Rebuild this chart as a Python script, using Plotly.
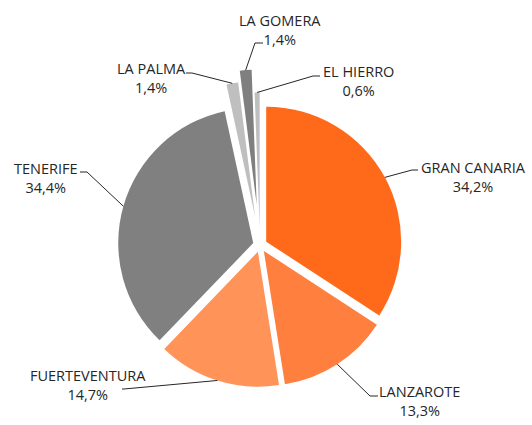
import math
import plotly.graph_objects as go

# ---- data ----
labels = ["GRAN CANARIA", "LANZAROTE", "FUERTEVENTURA", "TENERIFE",
          "LA PALMA", "LA GOMERA", "EL HIERRO"]
values = [34.2, 13.3, 14.7, 34.4, 1.4, 1.4, 0.6]

# ---- styles ----
colors = ["#FF6A1A", "#FF7F3F", "#FF9358", "#808080", "#BFBFBF", "#7F7F7F", "#BFBFBF"]
pulls = [0.052, 0.052, 0.052, 0.052, 0.215, 0.30, 0.13]

W, H = 532, 425
CX, CY = 260, 245          # pie centre in pixels
R = 135                    # pie radius in pixels
box = 2 * R * (1 + max(pulls))

dom_x = [(CX - box / 2) / W, (CX + box / 2) / W]
dom_y = [(H - CY - box / 2) / H, (H - CY + box / 2) / H]

# label layout (pixels): text centre, leader start, leader elbow
label_layout = {
    "GRAN CANARIA": ((473, 177), (418, 170), (412, 170)),
    "LANZAROTE": ((419, 401), (378, 396), (370, 396)),
    "FUERTEVENTURA": ((88, 385), (122, 389), (124, 389)),
    "TENERIFE": ((46, 178), (80, 172), (87, 172)),
    "LA PALMA": ((151, 78), (186, 73), (192, 73)),
    "LA GOMERA": ((280, 30), (263, 43), (255, 43)),
    "EL HIERRO": ((358, 81), (320, 76), (313, 76)),
}


def px(x):
    return x / W


def py(y):
    return 1 - y / H


total = sum(values)
annotations = []
shapes = []
cum = 0.0
for lab, v, p in zip(labels, values, pulls):
    mid = (cum + v / 2) / total * 2 * math.pi
    cum += v
    ux, uy = math.sin(mid), -math.cos(mid)
    d = R * (1 + p)
    ex, ey = CX + d * ux, CY + d * uy
    (tx, ty), (sx, sy), (bx, by) = label_layout[lab]
    pct = f"{v / total * 100:.1f}".replace(".", ",") + "%"
    annotations.append(dict(
        x=px(tx), y=py(ty), xref="paper", yref="paper",
        text=f"{lab}<br>{pct}", showarrow=False,
        xanchor="center", yanchor="middle",
        font=dict(family="Open Sans", size=14.5, color="#262626"),
    ))
    shapes.append(dict(
        type="path", xref="paper", yref="paper",
        path=f"M {px(sx)},{py(sy)} L {px(bx)},{py(by)} L {px(ex)},{py(ey)}",
        line=dict(color="#262626", width=1),
    ))

fig = go.Figure(go.Pie(
    labels=labels, values=values, sort=False, direction="clockwise",
    rotation=0, pull=pulls, textinfo="none", hoverinfo="label+percent",
    marker=dict(colors=colors, line=dict(width=0)),
    domain=dict(x=dom_x, y=dom_y),
))
fig.update_layout(
    width=W, height=H, margin=dict(l=0, r=0, t=0, b=0),
    showlegend=False, paper_bgcolor="white", plot_bgcolor="white",
    separators=",.", annotations=annotations, shapes=shapes,
)
fig.write_html("out.html", config={"displayModeBar": False},
               post_script="document.body.style.margin='0';")
